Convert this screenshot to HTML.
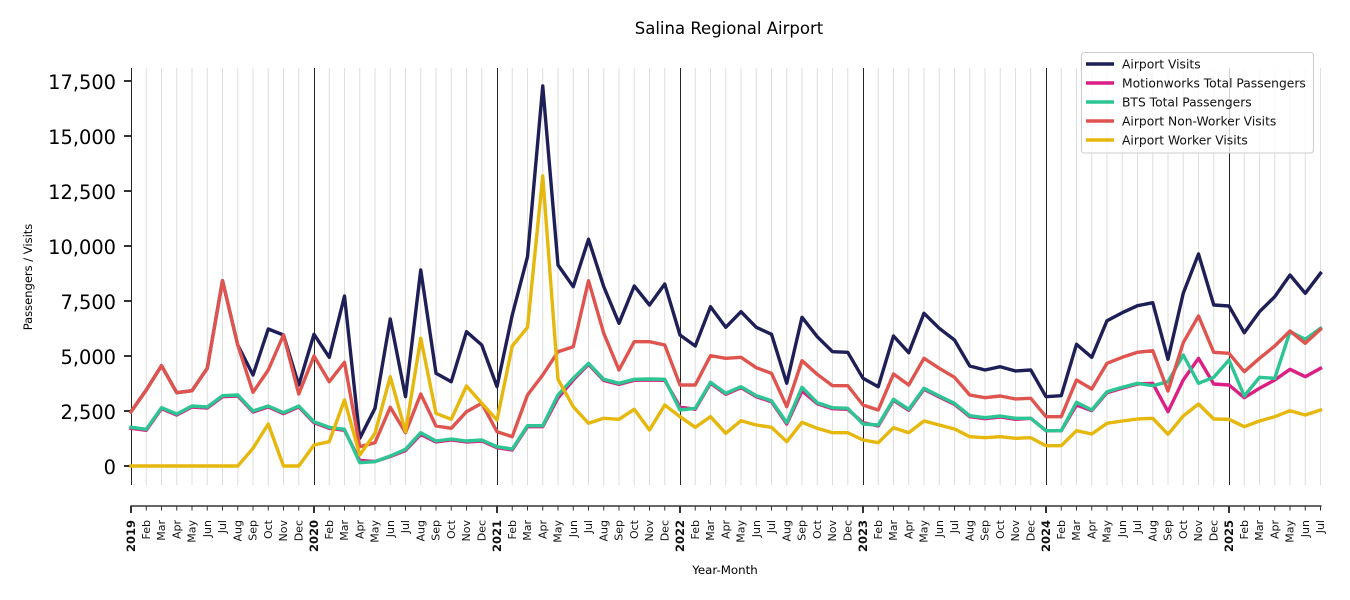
<!DOCTYPE html>
<html><head><meta charset="utf-8"><style>
html,body{margin:0;padding:0;background:#fff;}
svg{display:block;font-family:"DejaVu Sans","Liberation Sans",sans-serif;}
.g{stroke:#dedede;stroke-width:1;}
.yr{stroke:#262626;stroke-width:1;}
.mt{stroke:#333;stroke-width:1;}
.ytk{stroke:#333;stroke-width:2;}
.ml{font-size:11px;fill:#111;}
.yl{font-size:11.5px;font-weight:bold;fill:#111;}
.s{fill:none;stroke-width:3.4;stroke-linejoin:round;stroke-linecap:square;}
</style></head><body>
<svg width="1350" height="600" viewBox="0 0 1350 600" xmlns="http://www.w3.org/2000/svg">
<rect width="1350" height="600" fill="#fff"/>
<text x="729" y="34" font-size="16.5" text-anchor="middle" fill="#000">Salina Regional Airport</text>
<g class="g">
<line x1="146.25" y1="68" x2="146.25" y2="485"/><line x1="161.5" y1="68" x2="161.5" y2="485"/><line x1="176.75" y1="68" x2="176.75" y2="485"/><line x1="192" y1="68" x2="192" y2="485"/><line x1="207.25" y1="68" x2="207.25" y2="485"/><line x1="222.5" y1="68" x2="222.5" y2="485"/><line x1="237.75" y1="68" x2="237.75" y2="485"/><line x1="253" y1="68" x2="253" y2="485"/><line x1="268.25" y1="68" x2="268.25" y2="485"/><line x1="283.5" y1="68" x2="283.5" y2="485"/><line x1="298.75" y1="68" x2="298.75" y2="485"/>
<line x1="329.25" y1="68" x2="329.25" y2="485"/><line x1="344.5" y1="68" x2="344.5" y2="485"/><line x1="359.75" y1="68" x2="359.75" y2="485"/><line x1="375" y1="68" x2="375" y2="485"/><line x1="390.25" y1="68" x2="390.25" y2="485"/><line x1="405.5" y1="68" x2="405.5" y2="485"/><line x1="420.75" y1="68" x2="420.75" y2="485"/><line x1="436" y1="68" x2="436" y2="485"/><line x1="451.25" y1="68" x2="451.25" y2="485"/><line x1="466.5" y1="68" x2="466.5" y2="485"/><line x1="481.75" y1="68" x2="481.75" y2="485"/>
<line x1="512.25" y1="68" x2="512.25" y2="485"/><line x1="527.5" y1="68" x2="527.5" y2="485"/><line x1="542.75" y1="68" x2="542.75" y2="485"/><line x1="558" y1="68" x2="558" y2="485"/><line x1="573.25" y1="68" x2="573.25" y2="485"/><line x1="588.5" y1="68" x2="588.5" y2="485"/><line x1="603.75" y1="68" x2="603.75" y2="485"/><line x1="619" y1="68" x2="619" y2="485"/><line x1="634.25" y1="68" x2="634.25" y2="485"/><line x1="649.5" y1="68" x2="649.5" y2="485"/><line x1="664.75" y1="68" x2="664.75" y2="485"/>
<line x1="695.25" y1="68" x2="695.25" y2="485"/><line x1="710.5" y1="68" x2="710.5" y2="485"/><line x1="725.75" y1="68" x2="725.75" y2="485"/><line x1="741" y1="68" x2="741" y2="485"/><line x1="756.25" y1="68" x2="756.25" y2="485"/><line x1="771.5" y1="68" x2="771.5" y2="485"/><line x1="786.75" y1="68" x2="786.75" y2="485"/><line x1="802" y1="68" x2="802" y2="485"/><line x1="817.25" y1="68" x2="817.25" y2="485"/><line x1="832.5" y1="68" x2="832.5" y2="485"/><line x1="847.75" y1="68" x2="847.75" y2="485"/>
<line x1="878.25" y1="68" x2="878.25" y2="485"/><line x1="893.5" y1="68" x2="893.5" y2="485"/><line x1="908.75" y1="68" x2="908.75" y2="485"/><line x1="924" y1="68" x2="924" y2="485"/><line x1="939.25" y1="68" x2="939.25" y2="485"/><line x1="954.5" y1="68" x2="954.5" y2="485"/><line x1="969.75" y1="68" x2="969.75" y2="485"/><line x1="985" y1="68" x2="985" y2="485"/><line x1="1000.25" y1="68" x2="1000.25" y2="485"/><line x1="1015.5" y1="68" x2="1015.5" y2="485"/><line x1="1030.75" y1="68" x2="1030.75" y2="485"/>
<line x1="1061.25" y1="68" x2="1061.25" y2="485"/><line x1="1076.5" y1="68" x2="1076.5" y2="485"/><line x1="1091.75" y1="68" x2="1091.75" y2="485"/><line x1="1107" y1="68" x2="1107" y2="485"/><line x1="1122.25" y1="68" x2="1122.25" y2="485"/><line x1="1137.5" y1="68" x2="1137.5" y2="485"/><line x1="1152.75" y1="68" x2="1152.75" y2="485"/><line x1="1168" y1="68" x2="1168" y2="485"/><line x1="1183.25" y1="68" x2="1183.25" y2="485"/><line x1="1198.5" y1="68" x2="1198.5" y2="485"/><line x1="1213.75" y1="68" x2="1213.75" y2="485"/>
<line x1="1244.25" y1="68" x2="1244.25" y2="485"/><line x1="1259.5" y1="68" x2="1259.5" y2="485"/><line x1="1274.75" y1="68" x2="1274.75" y2="485"/><line x1="1290" y1="68" x2="1290" y2="485"/><line x1="1305.25" y1="68" x2="1305.25" y2="485"/><line x1="1320.5" y1="68" x2="1320.5" y2="485"/>
</g>
<g class="yr">
<line x1="131.5" y1="68" x2="131.5" y2="485"/>
<line x1="314.5" y1="68" x2="314.5" y2="485"/>
<line x1="497.5" y1="68" x2="497.5" y2="485"/>
<line x1="680.5" y1="68" x2="680.5" y2="485"/>
<line x1="863.5" y1="68" x2="863.5" y2="485"/>
<line x1="1046.5" y1="68" x2="1046.5" y2="485"/>
<line x1="1229.5" y1="68" x2="1229.5" y2="485"/>
</g>
<!-- y ticks -->
<g class="ytk">
<line x1="124" y1="466" x2="131" y2="466"/><line x1="124" y1="411" x2="131" y2="411"/><line x1="124" y1="356" x2="131" y2="356"/><line x1="124" y1="301" x2="131" y2="301"/><line x1="124" y1="246" x2="131" y2="246"/><line x1="124" y1="191" x2="131" y2="191"/><line x1="124" y1="136" x2="131" y2="136"/><line x1="124" y1="81" x2="131" y2="81"/>
</g>
<g font-size="19.4" text-anchor="end" fill="#000">
<text x="116" y="474">0</text><text x="116" y="419">2,500</text><text x="116" y="364">5,000</text><text x="116" y="309">7,500</text><text x="116" y="254">10,000</text><text x="116" y="199">12,500</text><text x="116" y="144">15,000</text><text x="116" y="89">17,500</text>
</g>
<text transform="translate(32,277) rotate(-90)" font-size="11.5" text-anchor="middle" fill="#000">Passengers / Visits</text>
<!-- series -->
<polyline class="s" stroke="#1f1f57" points="131,411.7 146.25,390 161.5,365.7 176.75,392.7 192,390.7 207.25,368.3 222.5,280.7 237.75,345 253,375 268.25,329 283.5,335 298.75,385 314,334.3 329.25,357.3 344.5,296 359.75,438.3 375,408.3 390.25,319 405.5,396.7 420.75,270 436,373.3 451.25,381.7 466.5,331.7 481.75,345 497,386.7 512.25,315 527.5,256.7 542.75,86 558,265 573.25,286.7 588.5,239.3 603.75,286.7 619,323.3 634.25,286 649.5,305 664.75,284 680,335 695.25,346 710.5,306.7 725.75,327.3 741,311.7 756.25,327.3 771.5,334.3 786.75,383.3 802,317.3 817.25,336.7 832.5,351.7 847.75,352.3 863,378.3 878.25,386.7 893.5,336 908.75,352.7 924,313.3 939.25,328.3 954.5,340 969.75,366 985,370 1000.25,366.7 1015.5,371 1030.75,370 1046,396.7 1061.25,395.7 1076.5,344.3 1091.75,357.3 1107,320.7 1122.25,312.7 1137.5,305.7 1152.75,302.7 1168,359.3 1183.25,293.3 1198.5,254 1213.75,305 1229,306 1244.25,332.7 1259.5,311.7 1274.75,296.7 1290,275 1305.25,293.3 1320.5,273.3"/>
<polyline class="s" stroke="#dc1f85" points="131,428.3 146.25,430.3 161.5,408.7 176.75,415 192,407 207.25,408 222.5,396.7 237.75,396 253,412 268.25,407 283.5,413.7 298.75,407 314,422.7 329.25,428.3 344.5,430.3 359.75,460.5 375,461.5 390.25,456.5 405.5,450.5 420.75,434.5 436,442 451.25,440 466.5,442 481.75,441 497,447.7 512.25,450 527.5,426.7 542.75,426.7 558,398 573.25,380 588.5,364.3 603.75,380.5 619,384.3 634.25,380.3 649.5,380 664.75,380.3 680,407 695.25,409.3 710.5,383.3 725.75,394.3 741,387.7 756.25,396.7 771.5,401.7 786.75,424 802,391 817.25,403.7 832.5,408.7 847.75,409.3 863,422.7 878.25,426 893.5,400.3 908.75,410.3 924,389.3 939.25,397 954.5,404.3 969.75,416.7 985,418.7 1000.25,417 1015.5,419.3 1030.75,418.3 1046,430.7 1061.25,430.7 1076.5,405 1091.75,410.7 1107,392.7 1122.25,388.3 1137.5,384 1152.75,383.3 1168,411.7 1183.25,380 1198.5,358.3 1213.75,384 1229,385 1244.25,397.7 1259.5,388.3 1274.75,380 1290,369.3 1305.25,376.7 1320.5,368.3"/>
<polyline class="s" stroke="#2cc593" points="131,427.3 146.25,429.3 161.5,407.7 176.75,414 192,406 207.25,407 222.5,395.7 237.75,395 253,411 268.25,406 283.5,412.7 298.75,406 314,421.7 329.25,427.3 344.5,429.3 359.75,462.7 375,461.7 390.25,456 405.5,449.3 420.75,432.7 436,441 451.25,439 466.5,441 481.75,440 497,446.7 512.25,449 527.5,425.7 542.75,425.7 558,395 573.25,378.3 588.5,363.3 603.75,379.3 619,383.3 634.25,379.3 649.5,379 664.75,379.3 680,410 695.25,408.3 710.5,382.3 725.75,393.3 741,386.7 756.25,395.7 771.5,400.7 786.75,422.7 802,387.3 817.25,402.7 832.5,407.7 847.75,408.3 863,424 878.25,425 893.5,399.3 908.75,409.3 924,388.3 939.25,396 954.5,403.3 969.75,415.7 985,417.7 1000.25,416 1015.5,418.3 1030.75,418.3 1046,430.7 1061.25,430.7 1076.5,402.3 1091.75,410 1107,391.7 1122.25,387.3 1137.5,383.3 1152.75,385.7 1168,381.7 1183.25,355 1198.5,383.3 1213.75,377.3 1229,360 1244.25,396 1259.5,377.3 1274.75,378.3 1290,331.7 1305.25,339.3 1320.5,328.3"/>
<polyline class="s" stroke="#df544e" points="131,411.7 146.25,390 161.5,365.7 176.75,392.7 192,390.7 207.25,368.3 222.5,280.7 237.75,345 253,392.3 268.25,370 283.5,335 298.75,394 314,356 329.25,381.7 344.5,362.3 359.75,446.7 375,442.7 390.25,407.3 405.5,432.7 420.75,394 436,426 451.25,428.3 466.5,411.7 481.75,403.3 497,431.7 512.25,436.7 527.5,395 542.75,375 558,351.7 573.25,346.7 588.5,280.7 603.75,333.3 619,370 634.25,341.7 649.5,341.7 664.75,345 680,385 695.25,385 710.5,355.7 725.75,358.3 741,357.3 756.25,367.7 771.5,373.3 786.75,406.7 802,360.7 817.25,374.3 832.5,385.7 847.75,385.7 863,405 878.25,410 893.5,374 908.75,385 924,358.3 939.25,368.3 954.5,377.3 969.75,395 985,397.7 1000.25,396 1015.5,399 1030.75,398.3 1046,416.7 1061.25,416.7 1076.5,380 1091.75,389 1107,363.3 1122.25,357.3 1137.5,352.3 1152.75,350.7 1168,391 1183.25,342.7 1198.5,316 1213.75,352.3 1229,353.3 1244.25,371.7 1259.5,358.3 1274.75,346 1290,331 1305.25,343.3 1320.5,329.3"/>
<polyline class="s" stroke="#e6b70c" points="131,466 146.25,466 161.5,466 176.75,466 192,466 207.25,466 222.5,466 237.75,466 253,448.3 268.25,424 283.5,466 298.75,466 314,445 329.25,441.7 344.5,400 359.75,455 375,433.3 390.25,376.7 405.5,431.7 420.75,338.3 436,413.3 451.25,419.3 466.5,386 481.75,403.3 497,420 512.25,346 527.5,327.3 542.75,176 558,379.3 573.25,406.7 588.5,423.3 603.75,418.3 619,419.3 634.25,409.3 649.5,430 664.75,405 680,416.7 695.25,427.3 710.5,416.7 725.75,433.3 741,420.7 756.25,425 771.5,427.3 786.75,441.7 802,422.3 817.25,428.3 832.5,432.7 847.75,432.7 863,440 878.25,442.7 893.5,427.7 908.75,432.7 924,421 939.25,425 954.5,429 969.75,436.7 985,437.7 1000.25,436.7 1015.5,438.3 1030.75,437.7 1046,445.7 1061.25,445.7 1076.5,430.7 1091.75,434 1107,423.3 1122.25,421 1137.5,419 1152.75,418.3 1168,434.3 1183.25,416 1198.5,404 1213.75,419 1229,419.3 1244.25,426.7 1259.5,421 1274.75,416.7 1290,410.7 1305.25,415 1320.5,410"/>
<!-- x axis -->
<line x1="130.5" y1="506" x2="1321.5" y2="506" stroke="#333" stroke-width="1.5"/>
<g class="mt">
<line x1="146.25" y1="506" x2="146.25" y2="510.5"/><line x1="161.5" y1="506" x2="161.5" y2="510.5"/><line x1="176.75" y1="506" x2="176.75" y2="510.5"/><line x1="192" y1="506" x2="192" y2="510.5"/><line x1="207.25" y1="506" x2="207.25" y2="510.5"/><line x1="222.5" y1="506" x2="222.5" y2="510.5"/><line x1="237.75" y1="506" x2="237.75" y2="510.5"/><line x1="253" y1="506" x2="253" y2="510.5"/><line x1="268.25" y1="506" x2="268.25" y2="510.5"/><line x1="283.5" y1="506" x2="283.5" y2="510.5"/><line x1="298.75" y1="506" x2="298.75" y2="510.5"/>
<line x1="329.25" y1="506" x2="329.25" y2="510.5"/><line x1="344.5" y1="506" x2="344.5" y2="510.5"/><line x1="359.75" y1="506" x2="359.75" y2="510.5"/><line x1="375" y1="506" x2="375" y2="510.5"/><line x1="390.25" y1="506" x2="390.25" y2="510.5"/><line x1="405.5" y1="506" x2="405.5" y2="510.5"/><line x1="420.75" y1="506" x2="420.75" y2="510.5"/><line x1="436" y1="506" x2="436" y2="510.5"/><line x1="451.25" y1="506" x2="451.25" y2="510.5"/><line x1="466.5" y1="506" x2="466.5" y2="510.5"/><line x1="481.75" y1="506" x2="481.75" y2="510.5"/>
<line x1="512.25" y1="506" x2="512.25" y2="510.5"/><line x1="527.5" y1="506" x2="527.5" y2="510.5"/><line x1="542.75" y1="506" x2="542.75" y2="510.5"/><line x1="558" y1="506" x2="558" y2="510.5"/><line x1="573.25" y1="506" x2="573.25" y2="510.5"/><line x1="588.5" y1="506" x2="588.5" y2="510.5"/><line x1="603.75" y1="506" x2="603.75" y2="510.5"/><line x1="619" y1="506" x2="619" y2="510.5"/><line x1="634.25" y1="506" x2="634.25" y2="510.5"/><line x1="649.5" y1="506" x2="649.5" y2="510.5"/><line x1="664.75" y1="506" x2="664.75" y2="510.5"/>
<line x1="695.25" y1="506" x2="695.25" y2="510.5"/><line x1="710.5" y1="506" x2="710.5" y2="510.5"/><line x1="725.75" y1="506" x2="725.75" y2="510.5"/><line x1="741" y1="506" x2="741" y2="510.5"/><line x1="756.25" y1="506" x2="756.25" y2="510.5"/><line x1="771.5" y1="506" x2="771.5" y2="510.5"/><line x1="786.75" y1="506" x2="786.75" y2="510.5"/><line x1="802" y1="506" x2="802" y2="510.5"/><line x1="817.25" y1="506" x2="817.25" y2="510.5"/><line x1="832.5" y1="506" x2="832.5" y2="510.5"/><line x1="847.75" y1="506" x2="847.75" y2="510.5"/>
<line x1="878.25" y1="506" x2="878.25" y2="510.5"/><line x1="893.5" y1="506" x2="893.5" y2="510.5"/><line x1="908.75" y1="506" x2="908.75" y2="510.5"/><line x1="924" y1="506" x2="924" y2="510.5"/><line x1="939.25" y1="506" x2="939.25" y2="510.5"/><line x1="954.5" y1="506" x2="954.5" y2="510.5"/><line x1="969.75" y1="506" x2="969.75" y2="510.5"/><line x1="985" y1="506" x2="985" y2="510.5"/><line x1="1000.25" y1="506" x2="1000.25" y2="510.5"/><line x1="1015.5" y1="506" x2="1015.5" y2="510.5"/><line x1="1030.75" y1="506" x2="1030.75" y2="510.5"/>
<line x1="1061.25" y1="506" x2="1061.25" y2="510.5"/><line x1="1076.5" y1="506" x2="1076.5" y2="510.5"/><line x1="1091.75" y1="506" x2="1091.75" y2="510.5"/><line x1="1107" y1="506" x2="1107" y2="510.5"/><line x1="1122.25" y1="506" x2="1122.25" y2="510.5"/><line x1="1137.5" y1="506" x2="1137.5" y2="510.5"/><line x1="1152.75" y1="506" x2="1152.75" y2="510.5"/><line x1="1168" y1="506" x2="1168" y2="510.5"/><line x1="1183.25" y1="506" x2="1183.25" y2="510.5"/><line x1="1198.5" y1="506" x2="1198.5" y2="510.5"/><line x1="1213.75" y1="506" x2="1213.75" y2="510.5"/>
<line x1="1244.25" y1="506" x2="1244.25" y2="510.5"/><line x1="1259.5" y1="506" x2="1259.5" y2="510.5"/><line x1="1274.75" y1="506" x2="1274.75" y2="510.5"/><line x1="1290" y1="506" x2="1290" y2="510.5"/><line x1="1305.25" y1="506" x2="1305.25" y2="510.5"/><line x1="1320.5" y1="506" x2="1320.5" y2="510.5"/>
</g>
<g stroke="#333" stroke-width="2">
<line x1="131" y1="506" x2="131" y2="513"/><line x1="314" y1="506" x2="314" y2="513"/><line x1="497" y1="506" x2="497" y2="513"/><line x1="680" y1="506" x2="680" y2="513"/><line x1="863" y1="506" x2="863" y2="513"/><line x1="1046" y1="506" x2="1046" y2="513"/><line x1="1229" y1="506" x2="1229" y2="513"/>
</g>
<g text-anchor="end" dominant-baseline="central">
<text class="yl" transform="translate(131,520) rotate(-90)">2019</text>
<text class="ml" transform="translate(146.25,520) rotate(-90)">Feb</text><text class="ml" transform="translate(161.5,520) rotate(-90)">Mar</text><text class="ml" transform="translate(176.75,520) rotate(-90)">Apr</text><text class="ml" transform="translate(192,520) rotate(-90)">May</text><text class="ml" transform="translate(207.25,520) rotate(-90)">Jun</text><text class="ml" transform="translate(222.5,520) rotate(-90)">Jul</text><text class="ml" transform="translate(237.75,520) rotate(-90)">Aug</text><text class="ml" transform="translate(253,520) rotate(-90)">Sep</text><text class="ml" transform="translate(268.25,520) rotate(-90)">Oct</text><text class="ml" transform="translate(283.5,520) rotate(-90)">Nov</text><text class="ml" transform="translate(298.75,520) rotate(-90)">Dec</text>
<text class="yl" transform="translate(314,520) rotate(-90)">2020</text>
<text class="ml" transform="translate(329.25,520) rotate(-90)">Feb</text><text class="ml" transform="translate(344.5,520) rotate(-90)">Mar</text><text class="ml" transform="translate(359.75,520) rotate(-90)">Apr</text><text class="ml" transform="translate(375,520) rotate(-90)">May</text><text class="ml" transform="translate(390.25,520) rotate(-90)">Jun</text><text class="ml" transform="translate(405.5,520) rotate(-90)">Jul</text><text class="ml" transform="translate(420.75,520) rotate(-90)">Aug</text><text class="ml" transform="translate(436,520) rotate(-90)">Sep</text><text class="ml" transform="translate(451.25,520) rotate(-90)">Oct</text><text class="ml" transform="translate(466.5,520) rotate(-90)">Nov</text><text class="ml" transform="translate(481.75,520) rotate(-90)">Dec</text>
<text class="yl" transform="translate(497,520) rotate(-90)">2021</text>
<text class="ml" transform="translate(512.25,520) rotate(-90)">Feb</text><text class="ml" transform="translate(527.5,520) rotate(-90)">Mar</text><text class="ml" transform="translate(542.75,520) rotate(-90)">Apr</text><text class="ml" transform="translate(558,520) rotate(-90)">May</text><text class="ml" transform="translate(573.25,520) rotate(-90)">Jun</text><text class="ml" transform="translate(588.5,520) rotate(-90)">Jul</text><text class="ml" transform="translate(603.75,520) rotate(-90)">Aug</text><text class="ml" transform="translate(619,520) rotate(-90)">Sep</text><text class="ml" transform="translate(634.25,520) rotate(-90)">Oct</text><text class="ml" transform="translate(649.5,520) rotate(-90)">Nov</text><text class="ml" transform="translate(664.75,520) rotate(-90)">Dec</text>
<text class="yl" transform="translate(680,520) rotate(-90)">2022</text>
<text class="ml" transform="translate(695.25,520) rotate(-90)">Feb</text><text class="ml" transform="translate(710.5,520) rotate(-90)">Mar</text><text class="ml" transform="translate(725.75,520) rotate(-90)">Apr</text><text class="ml" transform="translate(741,520) rotate(-90)">May</text><text class="ml" transform="translate(756.25,520) rotate(-90)">Jun</text><text class="ml" transform="translate(771.5,520) rotate(-90)">Jul</text><text class="ml" transform="translate(786.75,520) rotate(-90)">Aug</text><text class="ml" transform="translate(802,520) rotate(-90)">Sep</text><text class="ml" transform="translate(817.25,520) rotate(-90)">Oct</text><text class="ml" transform="translate(832.5,520) rotate(-90)">Nov</text><text class="ml" transform="translate(847.75,520) rotate(-90)">Dec</text>
<text class="yl" transform="translate(863,520) rotate(-90)">2023</text>
<text class="ml" transform="translate(878.25,520) rotate(-90)">Feb</text><text class="ml" transform="translate(893.5,520) rotate(-90)">Mar</text><text class="ml" transform="translate(908.75,520) rotate(-90)">Apr</text><text class="ml" transform="translate(924,520) rotate(-90)">May</text><text class="ml" transform="translate(939.25,520) rotate(-90)">Jun</text><text class="ml" transform="translate(954.5,520) rotate(-90)">Jul</text><text class="ml" transform="translate(969.75,520) rotate(-90)">Aug</text><text class="ml" transform="translate(985,520) rotate(-90)">Sep</text><text class="ml" transform="translate(1000.25,520) rotate(-90)">Oct</text><text class="ml" transform="translate(1015.5,520) rotate(-90)">Nov</text><text class="ml" transform="translate(1030.75,520) rotate(-90)">Dec</text>
<text class="yl" transform="translate(1046,520) rotate(-90)">2024</text>
<text class="ml" transform="translate(1061.25,520) rotate(-90)">Feb</text><text class="ml" transform="translate(1076.5,520) rotate(-90)">Mar</text><text class="ml" transform="translate(1091.75,520) rotate(-90)">Apr</text><text class="ml" transform="translate(1107,520) rotate(-90)">May</text><text class="ml" transform="translate(1122.25,520) rotate(-90)">Jun</text><text class="ml" transform="translate(1137.5,520) rotate(-90)">Jul</text><text class="ml" transform="translate(1152.75,520) rotate(-90)">Aug</text><text class="ml" transform="translate(1168,520) rotate(-90)">Sep</text><text class="ml" transform="translate(1183.25,520) rotate(-90)">Oct</text><text class="ml" transform="translate(1198.5,520) rotate(-90)">Nov</text><text class="ml" transform="translate(1213.75,520) rotate(-90)">Dec</text>
<text class="yl" transform="translate(1229,520) rotate(-90)">2025</text>
<text class="ml" transform="translate(1244.25,520) rotate(-90)">Feb</text><text class="ml" transform="translate(1259.5,520) rotate(-90)">Mar</text><text class="ml" transform="translate(1274.75,520) rotate(-90)">Apr</text><text class="ml" transform="translate(1290,520) rotate(-90)">May</text><text class="ml" transform="translate(1305.25,520) rotate(-90)">Jun</text><text class="ml" transform="translate(1320.5,520) rotate(-90)">Jul</text>
</g>
<text x="725" y="574" font-size="11.8" text-anchor="middle" fill="#000">Year-Month</text>
<!-- legend -->
<rect x="1081.5" y="52.5" width="232" height="100.5" rx="3" ry="3" fill="#fff" fill-opacity="0.8" stroke="#cccccc" stroke-width="1"/>
<g stroke-width="3.4">
<line x1="1086" y1="64" x2="1114" y2="64" stroke="#1f1f57"/>
<line x1="1086" y1="83" x2="1114" y2="83" stroke="#dc1f85"/>
<line x1="1086" y1="102" x2="1114" y2="102" stroke="#2cc593"/>
<line x1="1086" y1="121" x2="1114" y2="121" stroke="#df544e"/>
<line x1="1086" y1="140" x2="1114" y2="140" stroke="#e6b70c"/>
</g>
<g font-size="12.3" fill="#111">
<text x="1122" y="68.5">Airport Visits</text>
<text x="1122" y="87.5">Motionworks Total Passengers</text>
<text x="1122" y="106.5">BTS Total Passengers</text>
<text x="1122" y="125.5">Airport Non-Worker Visits</text>
<text x="1122" y="144.5">Airport Worker Visits</text>
</g>
</svg>
</body></html>
